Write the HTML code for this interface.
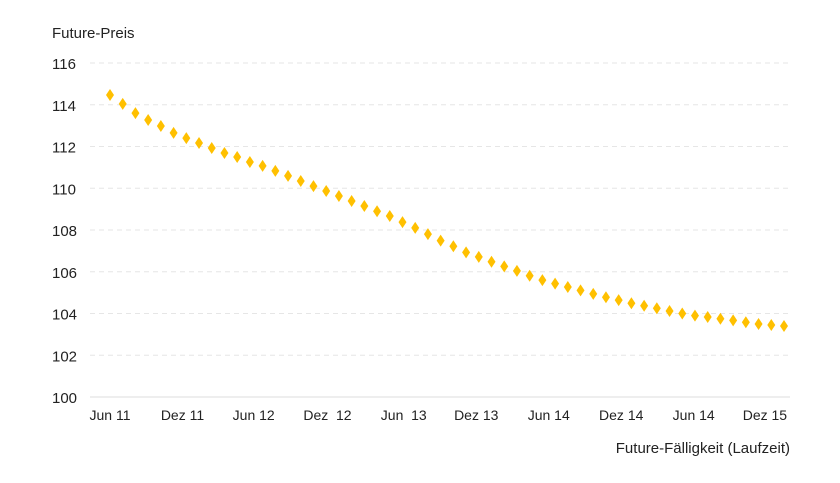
<!DOCTYPE html>
<html><head><meta charset="utf-8"><style>
body{margin:0;background:#fff;font-family:"Liberation Sans",sans-serif;}
svg text{font-family:"Liberation Sans",sans-serif;fill:#222;font-size:14px;}
</style></head><body>
<svg width="840" height="478" xmlns="http://www.w3.org/2000/svg">
<text x="52" y="38" style="font-size:15px">Future-Preis</text>
<text x="790" y="453" text-anchor="end" style="font-size:15px">Future-Fälligkeit (Laufzeit)</text>
<g id="grid"></g><g id="xt"></g><g id="pts"></g>
</svg>
<script>
const yTicks=[100,102,104,106,108,110,112,114,116];
const xLabels=["Jun 11","Dez 11","Jun 12","Dez  12","Jun  13","Dez 13","Jun 14","Dez 14","Jun 14","Dez 15"];
const xLabelPos=[0,5.7,11.3,17.1,23.1,28.8,34.5,40.2,45.9,51.5];
const prices=[114.47,114.04,113.6,113.27,112.98,112.65,112.4,112.17,111.93,111.69,111.5,111.26,111.07,110.83,110.59,110.35,110.1,109.87,109.63,109.39,109.15,108.9,108.67,108.38,108.1,107.8,107.49,107.22,106.93,106.71,106.48,106.26,106.04,105.81,105.6,105.43,105.27,105.11,104.94,104.78,104.64,104.49,104.37,104.25,104.12,104.0,103.9,103.83,103.75,103.67,103.58,103.5,103.45,103.4];
const NS="http://www.w3.org/2000/svg";
const x0=110,x1=784,yTop=63,yBot=397;
const xs=i=>x0+i*(x1-x0)/(prices.length-1);
const ys=v=>yBot-(v-100)*(yBot-yTop)/16;
const mk=(t,a,p)=>{const e=document.createElementNS(NS,t);for(const k in a)e.setAttribute(k,a[k]);p.appendChild(e);return e;};
const g=document.getElementById('grid');
yTicks.forEach(v=>{
 const l=mk('line',{x1:90,x2:790,y1:ys(v),y2:ys(v),stroke:v===100?'#ddd':'#e6e6e6','stroke-width':1,'stroke-dasharray':v===100?'':'5,4'},g);
 
 
 const t=mk('text',{x:52,y:ys(v)+6},g);t.textContent=v;t.style.fontSize='15px';
 
 
});
const xt=document.getElementById('xt');
xLabels.forEach((s,i)=>{
 const t=mk('text',{x:xs(xLabelPos[i]),y:420,'text-anchor':'middle'},xt);t.textContent=s;t.setAttribute('xml:space','preserve');t.style.whiteSpace='pre';
 
 
});
const pg=document.getElementById('pts');
prices.forEach((v,i)=>{
 const x=xs(i),y=ys(v);
 const p=mk('polygon',{points:`${x},${y-6} ${x+4},${y} ${x},${y+6} ${x-4},${y}`,fill:'#ffc000'},pg);
 
 
});
</script>
</body></html>
